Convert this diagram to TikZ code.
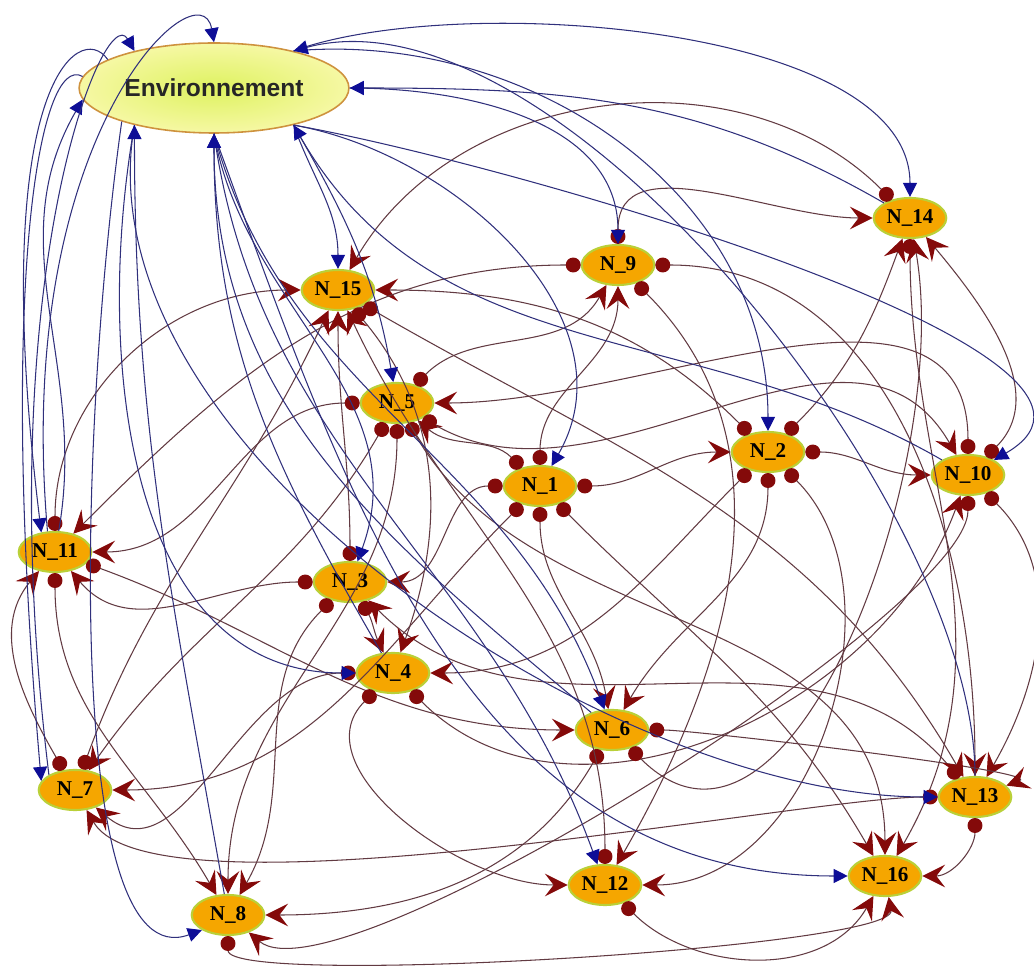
\documentclass[tikz,border=0pt]{standalone}
\usepackage{fontspec}
\setmainfont{Liberation Serif}
\setsansfont{Liberation Sans}
\usetikzlibrary{shapes.geometric,arrows.meta}

\definecolor{agentfill}{RGB}{245,166,0}
\definecolor{agentdraw}{RGB}{186,208,56}
\definecolor{envinner}{RGB}{222,242,96}
\definecolor{envouter}{RGB}{246,248,164}
\definecolor{envdraw}{RGB}{206,146,62}
\definecolor{linkred}{RGB}{132,10,10}
\definecolor{linkline}{RGB}{98,58,66}
\definecolor{envblue}{RGB}{14,14,150}
\definecolor{envline}{RGB}{48,48,124}

\tikzset{
  every agent/.style={ellipse, fill=agentfill, draw=agentdraw, line width=1.2pt,
    minimum width=1.45cm, minimum height=0.8cm, inner sep=0pt,
    font=\bfseries\fontsize{12}{12}\selectfont},
  environment node/.style={ellipse, draw=envdraw, line width=0.9pt,
    inner color=envinner, outer color=envouter,
    minimum width=5cm, minimum height=1.8cm, text=black!85,
    font=\sffamily\bfseries\fontsize{14}{14}\selectfont},
  agent link/.style={draw=linkline, line width=0.6pt,
    {Circle[length=8.5pt,color=linkred]}-{Stealth[length=13pt,width=13pt,inset=5pt,color=linkred]}},
  env link/.style={draw=envline, line width=0.6pt,
    -{Triangle[length=8pt,width=8pt,color=envblue]}}
}

\begin{document}
\begin{tikzpicture}[x=0.2mm, y=-0.2mm]
\useasboundingbox (0,0) rectangle (1034,976);

\node [environment node] (environment) at (214,88) {Environnement};

\foreach \n/\x/\y in {1/540/486, 2/768/452, 3/350/582, 4/393/673, 5/397/403,
    6/612/730, 7/75/790, 8/228/915, 9/618/265, 10/968/475, 11/55/552,
    12/605/885, 13/975/797, 14/910/218, 15/338/290, 16/885/876}
	\node [every agent] (agent-\n) at (\x,\y) {N\_\n};

%links between agents
\foreach \src/\sa/\tgt/\ta/\loose in {
    1/0/2/180/1, 1/90/9/-90/1, 1/135/5/-40/1, 1/180/3/0/1, 1/225/7/0/1,
    1/270/6/100/1, 1/315/16/120/1,
    2/135/15/0/1, 2/45/14/-110/1, 2/0/10/180/1, 2/225/4/0/1, 2/270/6/60/1,
    2/315/12/0/1,
    5/180/11/0/1, 5/45/9/-120/1, 5/240/7/55/1, 5/270/8/90/1, 5/300/16/90/1,
    5/330/10/120/1,
    9/180/11/45/1, 9/90/14/180/1, 9/0/13/90/1, 9/-45/12/60/1,
    14/135/15/60/1, 14/-90/16/60/1,
    10/90/5/0/1, 10/45/14/-50/1, 10/-90/8/-40/0.35, 10/-45/13/60/1,
    11/90/15/180/1, 11/-90/8/120/1, 11/-20/6/180/1,
    3/90/15/-90/1, 3/180/11/-50/1, 3/225/8/60/1, 3/-60/4/115/1,
    4/180/7/-40/1, 4/225/12/180/1, 4/315/10/-110/1,
    6/240/8/0/1, 6/0/13/20/0.3, 6/-45/14/-80/1,
    7/120/11/-130/1, 7/70/15/-115/1,
    13/180/7/-60/0.4, 13/130/3/-45/1, 13/-90/16/0/1,
    12/90/15/-65/1, 12/-45/16/-120/1,
    8/-90/16/-80/0.2,
    15/-50/4/70/1, 15/-30/13/120/1}
	\draw [agent link] (agent-\src.\sa) to[out=\sa, in=\ta, looseness=\loose] (agent-\tgt.\ta);

%links from the environment
\foreach \ea/\sa/\tgt/\ta/\loose in {
    25/20/14/90/0.7, 25/5/2/90/1, 0/0/9/90/1, -25/-10/1/60/1,
    -25/-10/10/30/0.7, -25/-70/15/90/1, -25/-60/5/100/1,
    -90/-80/3/70/1, -90/-75/6/110/1, -90/-82/12/110/1,
    -155/-100/4/180/1, -90/-70/16/180/1, -155/-100/13/180/0.8}
	\draw [env link] (environment.\ea) to[out=\sa, in=\ta, looseness=\loose] (agent-\tgt.\ta);

\draw [env link] (environment.165) to[out=125, in=97, out distance=1cm, in distance=9cm] (agent-11.125);
\draw [env link] (environment.175) to[out=150, in=95, out distance=1cm, in distance=10cm] (agent-7.165);
\draw [env link] (environment.200) to[out=262, in=200, out distance=6cm, in distance=3cm] (agent-8.210);

%links towards the environment
\foreach \src/\sa/\ea/\ta/\loose in {
    13/90/25/15/0.7, 14/150/0/0/1, 8/100/-155/-90/1, 4/120/-90/-90/1,
    6/140/-90/-90/1, 10/150/-25/-60/1, 11/80/185/240/1}
	\draw [env link] (agent-\src.\sa) to[out=\sa, in=\ta, looseness=\loose] (environment.\ea);

\draw [env link] (agent-11.110) to[out=95, in=100, out distance=8cm, in distance=1.6cm] (environment.90);
\draw [env link] (agent-7.150) to[out=97, in=120, out distance=10cm, in distance=1.2cm] (environment.155);

\end{tikzpicture}
\end{document}
